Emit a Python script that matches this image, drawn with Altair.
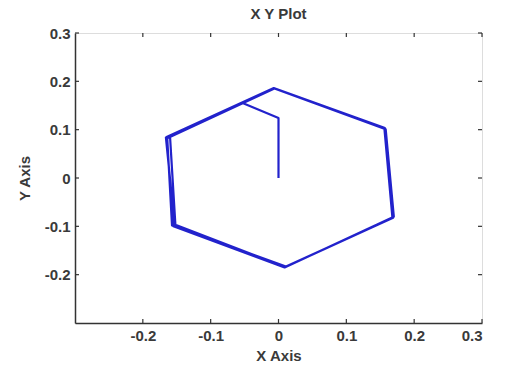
import altair as alt
import pandas as pd

# Trajectory of the point in the X-Y plane, in drawing order
xs = [0.000, 0.000, -0.053, -0.160, -0.152, 0.010, 0.168, 0.156, -0.007, -0.165,
      -0.155, 0.009, 0.170, 0.158, -0.006, -0.164, -0.157, 0.011, 0.169, 0.157,
      -0.007, -0.166, -0.153]
ys = [0.000, 0.124, 0.155, 0.088, -0.097, -0.184, -0.083, 0.104, 0.186, 0.085,
      -0.100, -0.185, -0.080, 0.101, 0.185, 0.082, -0.098, -0.183, -0.082, 0.103,
      0.186, 0.084, -0.099]
step = list(range(len(xs)))

x_ticks = [-0.2, -0.1, 0.0, 0.1, 0.2, 0.3]
y_ticks = [-0.2, -0.1, 0.0, 0.1, 0.2, 0.3]

df = pd.DataFrame({"x": xs, "y": ys, "step": step})
tx = pd.DataFrame({"v": x_ticks})
ty = pd.DataFrame({"v": y_ticks})

W, H = 407, 290
FONT = "Liberation Sans"
xs_scale = alt.Scale(domain=[-0.3, 0.3], nice=False, zero=False)
ys_scale = alt.Scale(domain=[-0.3, 0.3], nice=False, zero=False)

axis_style = dict(format="g", labelExpr="'' + datum.value", tickSize=0, labelPadding=5,
                  grid=False, domainColor="#333", domainWidth=1.5,
                  labelFont=FONT, labelFontSize=15, labelFontWeight="bold",
                  labelColor="#3a3a3a", titleFont=FONT, titleFontSize=15,
                  titleFontWeight="bold", titleColor="#3a3a3a")

path = alt.Chart(df).mark_line(color="#2222cc", strokeWidth=2.2, strokeJoin="round").encode(
    x=alt.X("x:Q", scale=xs_scale, title="X Axis",
            axis=alt.Axis(values=x_ticks, titlePadding=5, **axis_style)),
    y=alt.Y("y:Q", scale=ys_scale, title="Y Axis",
            axis=alt.Axis(values=y_ticks, titlePadding=12, **axis_style)),
    order="step:O",
)

# Inward tick marks on all four sides of the box
tick_style = dict(color="#333", strokeWidth=1.2)
bottom_ticks = alt.Chart(tx).mark_rule(**tick_style).encode(
    x=alt.X("v:Q", scale=xs_scale), y=alt.value(H), y2=alt.value(H - 4))
top_ticks = alt.Chart(tx).mark_rule(**tick_style).encode(
    x=alt.X("v:Q", scale=xs_scale), y=alt.value(0), y2=alt.value(4))
left_ticks = alt.Chart(ty).mark_rule(**tick_style).encode(
    y=alt.Y("v:Q", scale=ys_scale), x=alt.value(0), x2=alt.value(4))
right_ticks = alt.Chart(ty).mark_rule(**tick_style).encode(
    y=alt.Y("v:Q", scale=ys_scale), x=alt.value(W), x2=alt.value(W - 4))

chart = alt.layer(path, bottom_ticks, top_ticks, left_ticks, right_ticks).properties(
    width=W, height=H,
    title=alt.TitleParams("X Y Plot", font=FONT, fontSize=15, fontWeight="bold",
                          color="#3a3a3a", offset=4),
    autosize=alt.AutoSizeParams(type="none"),
    padding={"left": 75, "top": 33, "right": 26, "bottom": 43},
).configure_view(stroke="#333", strokeWidth=1.5).configure(background="white")

chart.save("out.html", embed_options={"renderer": "svg", "actions": False})
